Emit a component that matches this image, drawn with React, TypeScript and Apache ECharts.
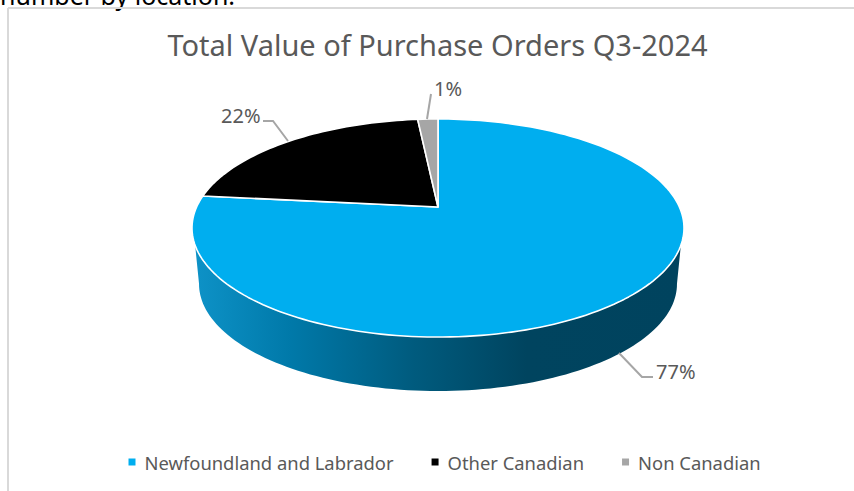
import React, { useEffect, useRef } from "react";
import * as echarts from "echarts";

const titleText = "Total Value of Purchase Orders Q3-2024";
const clippedCaption = "number by location.";
const categories = ["Newfoundland and Labrador", "Other Canadian", "Non Canadian"];
const values = [76.7, 21.7, 1.6];
const percentLabels = ["77%", "22%", "1%"];
const colors = ["#00AEEF", "#000000", "#A6A6A6"];

// Perspective model of the disc: unit circle -> screen
const top = { cx: 438, cy: 207, A: 241.4, B: 105, k: 0.1927 };
const bottom = { cx: 438, cy: 263.4, A: 234.5, B: 103, k: 0.1927 };
const project = (d: typeof top, deg: number) => {
  const t = (deg * Math.PI) / 180;
  const u = Math.sin(t);
  const v = Math.cos(t);
  const w = 1 + d.k * v;
  return [d.cx + (d.A * u) / w, d.cy - (d.B * v) / w];
};
const arc = (d: typeof top, a: number, b: number) => {
  const n = Math.max(2, Math.ceil(Math.abs(b - a) / 1.5));
  const pts: number[][] = [];
  for (let i = 0; i <= n; i++) pts.push(project(d, a + ((b - a) * i) / n));
  return pts;
};

// leader lines and label anchors
const leaders = [
  { line: [[619, 353], [642, 377], [653, 377]], text: [656, 371] },
  { line: [[288, 141], [273, 121], [263, 121]], text: [221, 115] },
  { line: [[427, 119], [431, 94]], text: [434, 88] },
];

const wallGradient = () =>
  new echarts.graphic.LinearGradient(
    192, 0, 684, 0,
    [
      { offset: 0, color: "#0E93C8" },
      { offset: 0.2, color: "#0079A9" },
      { offset: 0.45, color: "#005B7E" },
      { offset: 0.68, color: "#00445F" },
      { offset: 1, color: "#00435E" },
    ],
    true
  );

const total = values.reduce((a, b) => a + b, 0);

const makeRender = (index: number) => (_p: any, api: any) => {
  const before = values.slice(0, index).reduce((a, b) => a + b, 0);
  const start = (before / total) * 360;
  const end = ((before + api.value(0)) / total) * 360;
  const children: any[] = [];
  // visible wall: the front of the disc
  const wallA = Math.max(start, 110);
  const wallB = Math.min(end, 250);
  if (wallB > wallA) {
    const topArc = arc(top, wallA, wallB);
    const botArc = arc(bottom, Math.min(end, 259), Math.max(start, 101));
    children.push({
      type: "polygon",
      shape: { points: [...topArc, ...botArc] },
      style: { fill: wallGradient(), stroke: null },
    });
  }
  const apex = [top.cx, top.cy];
  children.push({
    type: "polygon",
    shape: { points: [apex, ...arc(top, start, end)] },
    style: { fill: colors[index], stroke: "#FFFFFF", lineWidth: 1.6, lineJoin: "round" },
  });
  const l = leaders[index];
  children.push({
    type: "polyline",
    shape: { points: l.line },
    style: { fill: null, stroke: "#A6A6A6", lineWidth: 2 },
  });
  children.push({
    type: "text",
    x: l.text[0],
    y: l.text[1],
    style: {
      text: percentLabels[index],
      font: '20px "Noto Sans"',
      fill: "#595959",
      verticalAlign: "middle",
      align: "left",
    },
  });
  return { type: "group", children };
};

export default function App() {
  const ref = useRef<HTMLDivElement>(null);
  useEffect(() => {
    document.body.style.margin = "0";
    const chart = echarts.init(ref.current!, undefined, { renderer: "svg" });
    chart.setOption({
      animation: false,
      backgroundColor: "#FFFFFF",
      title: {
        text: titleText,
        left: 432.5,
        top: 25,
        textAlign: "center",
        textStyle: { fontFamily: "Noto Sans", fontSize: 29, fontWeight: "normal", color: "#595959" },
      },
      legend: {
        data: categories,
        left: 123.5,
        top: 448,
        itemWidth: 7,
        itemHeight: 7,
        itemGap: 38,
        icon: "rect",
        textStyle: { fontFamily: "Noto Sans", fontSize: 18.4, color: "#595959", padding: [0, 0, 0, 4] },
      },
      graphic: [
        {
          type: "text",
          x: 0,
          y: -18,
          style: { text: clippedCaption, font: '25px "Noto Sans"', fill: "#000000" },
        },
        { type: "line", shape: { x1: 8, y1: 8, x2: 854, y2: 8 }, style: { stroke: "#D9D9D9", lineWidth: 2 } },
        { type: "line", shape: { x1: 8, y1: 8, x2: 8, y2: 491 }, style: { stroke: "#D9D9D9", lineWidth: 2 } },
      ],
      series: categories.map((name, i) => ({
        type: "custom",
        name,
        coordinateSystem: "none",
        silent: true,
        itemStyle: { color: colors[i] },
        data: [[values[i]]],
        renderItem: makeRender(i),
      })),
    });
    return () => chart.dispose();
  }, []);
  return <div ref={ref} style={{ position: "fixed", left: 0, top: 0, width: 854, height: 491 }} />;
}
